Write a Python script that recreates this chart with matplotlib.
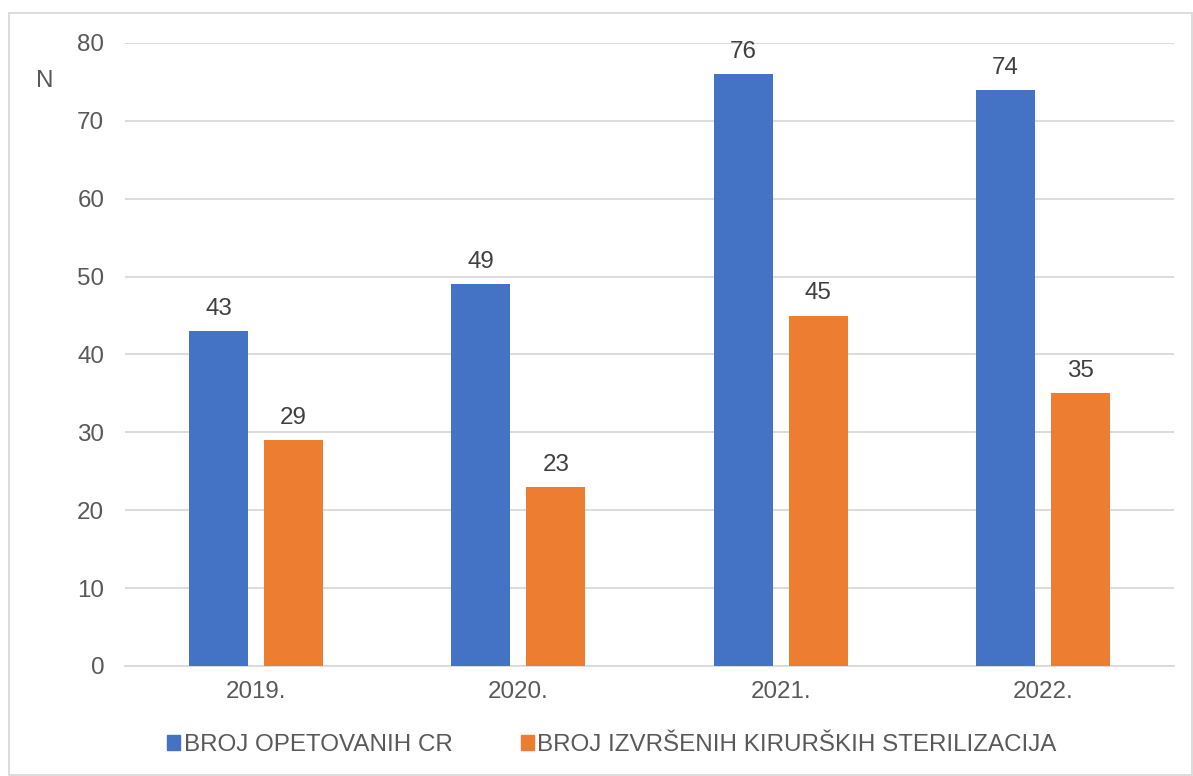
import matplotlib
matplotlib.use("Agg")
import matplotlib.pyplot as plt
import numpy as np
from matplotlib.patches import Rectangle, Patch

years = ["2019.", "2020.", "2021.", "2022."]
opetovani_cr = [43, 49, 76, 74]
sterilizacije = [29, 23, 45, 35]
series_names = ["BROJ OPETOVANIH CR", "BROJ IZVRŠENIH KIRURŠKIH STERILIZACIJA"]
yticks = [0, 10, 20, 30, 40, 50, 60, 70, 80]

plt.rcParams['font.family'] = ['Liberation Sans', 'DejaVu Sans']
TXT = '#595959'
BLUE = '#4472C4'
ORANGE = '#ED7D31'
FS = 17.4

fig = plt.figure(figsize=(11.93, 7.76), dpi=100)
ax = fig.add_axes([125/1193, 1-666/776, (1174-125)/1193, (666-43)/776])

x = np.arange(len(years))
w = 0.225
off = 0.143
b1 = ax.bar(x - off, opetovani_cr, w, color=BLUE, zorder=3)
b2 = ax.bar(x + off, sterilizacije, w, color=ORANGE, zorder=3)

for bars, vals in ((b1, opetovani_cr), (b2, sterilizacije)):
    for r, v in zip(bars, vals):
        ax.annotate(str(v), (r.get_x() + r.get_width()/2, v), xytext=(0, 8),
                    textcoords='offset points', ha='center', va='bottom',
                    fontsize=FS, color='#404040')

ax.set_xlim(-0.5, len(years) - 0.5)
ax.set_ylim(0, 80)
ax.set_yticks(yticks)
ax.set_xticks(x)
ax.set_xticklabels(years)
ax.tick_params(axis='both', length=0, labelsize=FS, colors=TXT)
ax.tick_params(axis='y', pad=15)
ax.tick_params(axis='x', pad=11)
ax.grid(axis='y', color='#D9D9D9', linewidth=1.3, zorder=0)
for s in ('top', 'right', 'left'):
    ax.spines[s].set_visible(False)
ax.spines['bottom'].set_color('#D9D9D9')
ax.spines['bottom'].set_linewidth(1.3)

fig.text(45/1193, 1-81/776, "N", fontsize=FS, color=TXT, ha='center', va='center')

handles = [Patch(color=BLUE), Patch(color=ORANGE)]
fig.legend(handles, series_names, loc='center', bbox_to_anchor=(612/1193, 1-745/776),
           ncol=2, frameon=False, fontsize=FS, labelcolor=TXT,
           handlelength=0.55, handleheight=0.55, handletextpad=0.15, columnspacing=2.8)

fig.patches.append(Rectangle((9/1193, 1-775/776), (1192-9)/1193, (775-13)/776,
                             transform=fig.transFigure, fill=False,
                             edgecolor='#D9D9D9', linewidth=1.3))

fig.savefig("out.png", dpi=100, facecolor='white')
